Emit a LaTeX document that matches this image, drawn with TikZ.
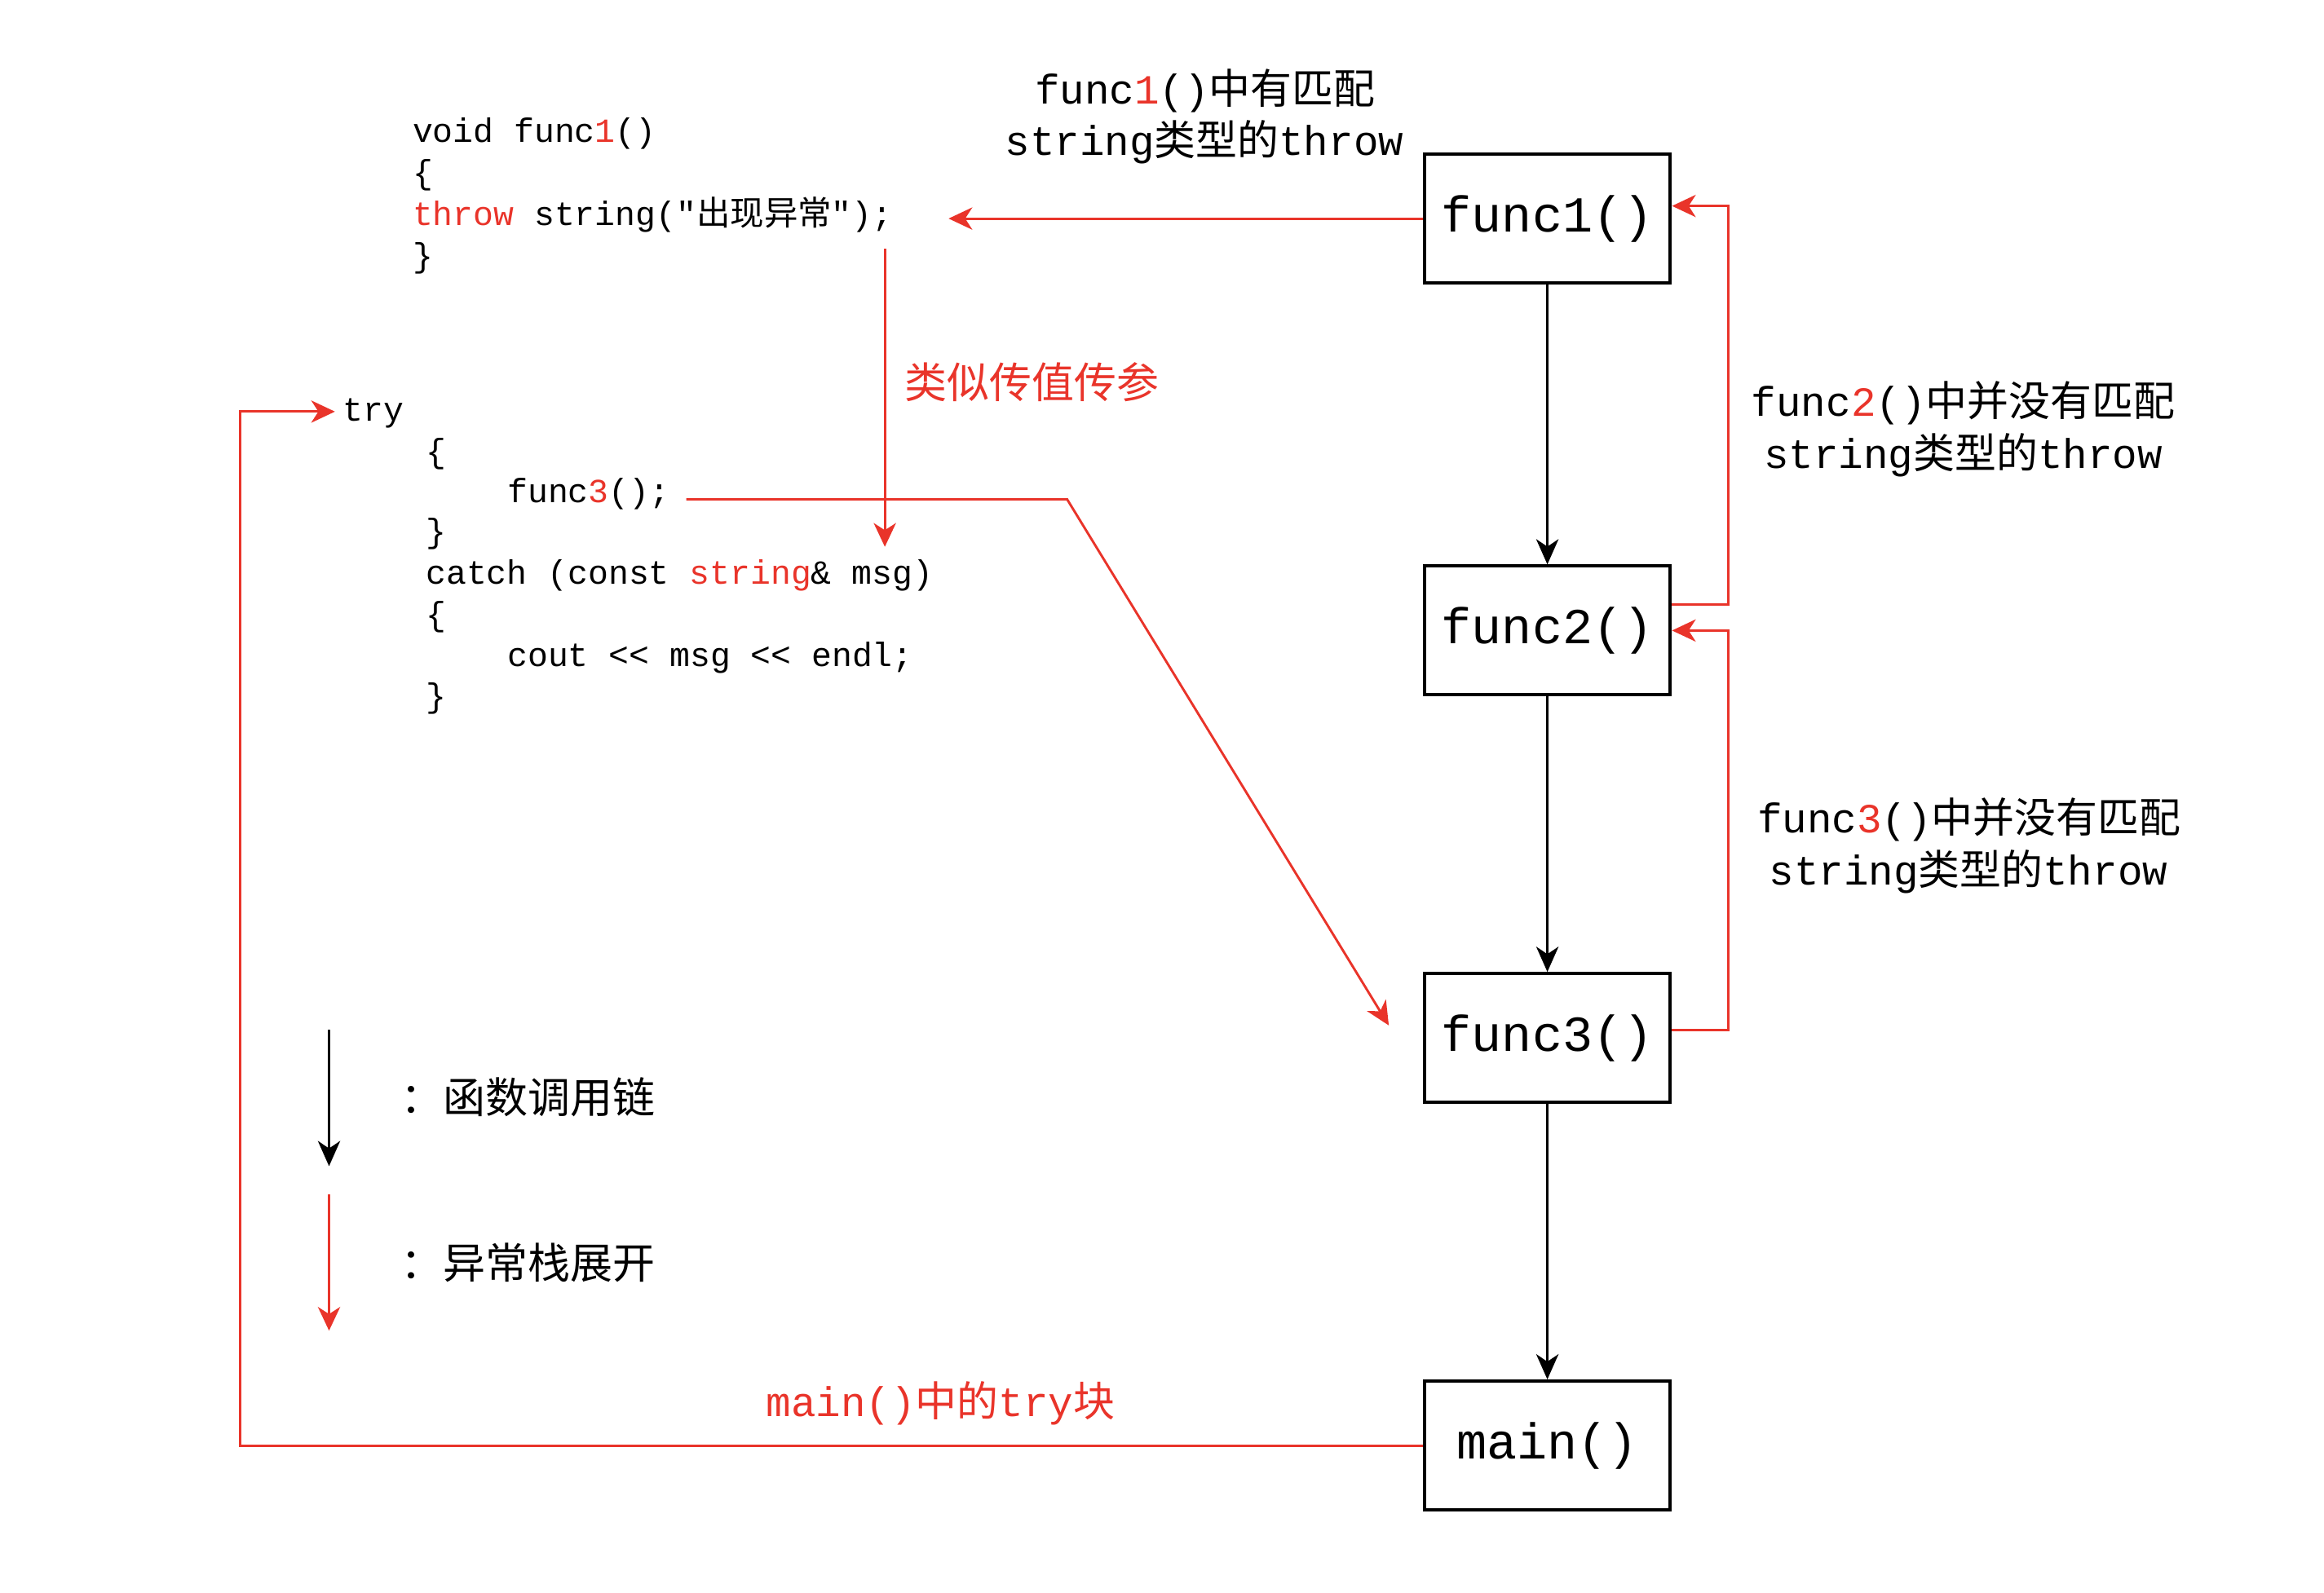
\documentclass[tikz,border=0pt]{standalone}
\usepackage{fontspec}
\setmonofont{Liberation Mono}
\newfontfamily\cjk{Noto Sans CJK SC}
\usetikzlibrary{arrows.meta,calc}
\definecolor{myred}{HTML}{E9342A}
\newcommand{\zh}[1]{{\cjk #1}}
\newcommand{\rd}[1]{\textcolor{myred}{#1}}
\begin{document}
\begin{tikzpicture}[x=0.5pt,y={(0pt,-0.5pt)},
  fbox/.style={draw=black, line width=1.1pt, minimum width=83pt, minimum height=43.5pt, inner sep=0pt, font=\ttfamily\fontsize{17}{20}\selectfont},
  code/.style={anchor=base west, inner sep=0pt, font=\ttfamily\fontsize{11.4}{13}\selectfont},
  lbl/.style={anchor=base, inner sep=0pt, font=\ttfamily\fontsize{14}{17}\selectfont},
  cjklbl/.style={anchor=base west, inner sep=0pt, font=\cjk\fontsize{14.3}{17}\selectfont},
  callarrow/.style={draw=black, line width=0.95pt, -{Stealth[length=8.5pt,width=7.5pt,inset=2.5pt]}},
  unwind/.style={draw=myred, line width=0.8pt, -{Stealth[length=8pt,width=7.5pt,inset=2.4pt]}}
]
\useasboundingbox (0,0) rectangle (1568,1075);

% boxes
\node[fbox] (f1) at (1044,147.5) {func1()};
\node[fbox] (f2) at (1044,425.5) {func2()};
\node[fbox] (f3) at (1044,700.5) {func3()};
\node[fbox] (mn) at (1044,975.5) {main()};

% call chain
\draw[callarrow] (f1.south) -- (f2.north);
\draw[callarrow] (f2.south) -- (f3.north);
\draw[callarrow] (f3.south) -- (mn.north);

% code block 1
\node[code] (a1) at (278,96) {void func\rd{1}()};
\node[code] (a2) at (278,124) {\{};
\node[code] (a3) at (278,152) {\rd{throw} string("\zh{出现异常}");};
\node[code] (a4) at (278,180) {\}};

% code block 2
\node[code] (b1) at (231,284) {try};
\node[code] (b2) at (287,312) {\{};
\node[code] (b3) at (342,339) {func\rd{3}();};
\node[code] (b4) at (287,366) {\}};
\node[code] (b5) at (287,394) {catch (const \rd{string}\& msg)};
\node[code] (b6) at (287,422) {\{};
\node[code] (b7) at (342,450) {cout << msg << endl;};
\node[code] (b8) at (287,477) {\}};

% labels
\node[lbl] (l1a) at (813,70) {func\rd{1}()\zh{中有匹配}};
\node[lbl] (l1b) at (812.5,105) {string\zh{类型的}throw};
\node[lbl] (l2a) at (1324.5,281) {func\rd{2}()\zh{中并没有匹配}};
\node[lbl] (l2b) at (1324.5,316) {string\zh{类型的}throw};
\node[lbl] (l3a) at (1328.5,562) {func\rd{3}()\zh{中并没有匹配}};
\node[lbl] (l3b) at (1328,597) {string\zh{类型的}throw};
\node[lbl, text=myred] (lm) at (634.5,956) {main()\zh{中的}try\zh{块}};
\node[cjklbl, text=myred] (lv) at (610,269) {类似传值传参};

% red unwinding arrows
\coordinate (throwpt) at (640,147.5);
\draw[unwind] (f1.west) -- (throwpt);
\draw[unwind] ($(f2.east)+(0,-17.5)$) -- ++(38,0) |- ($(f1.east)+(0,-8.5)$);
\draw[unwind] ($(f3.east)+(0,-5.5)$) -- ++(38,0) |- (f2.east);
\coordinate (mcorner) at (162,975.5);
\draw[unwind] (mn.west) -- (mcorner) |- ([xshift=-2.5pt,yshift=0.5pt]b1.west);

\coordinate (cstart) at (463,337);
\coordinate (bend) at (720,337);
\coordinate (hit3) at (937,692);
\draw[unwind] (cstart) -- (bend) -- (hit3);

\coordinate (v1) at (597,168);
\coordinate (v2) at (597,369);
\draw[unwind] (v1) -- (v2);

% legend
\coordinate (lg1a) at (222,695);
\coordinate (lg1b) at (222,787);
\coordinate (lg2a) at (222,806);
\coordinate (lg2b) at (222,898);
\draw[callarrow, line width=0.8pt] (lg1a) -- (lg1b);
\draw[unwind] (lg2a) -- (lg2b);
\node[cjklbl] (lg1t) at (270,751) {：函数调用链};
\node[cjklbl] (lg2t) at (270,863) {：异常栈展开};
\end{tikzpicture}
\end{document}
